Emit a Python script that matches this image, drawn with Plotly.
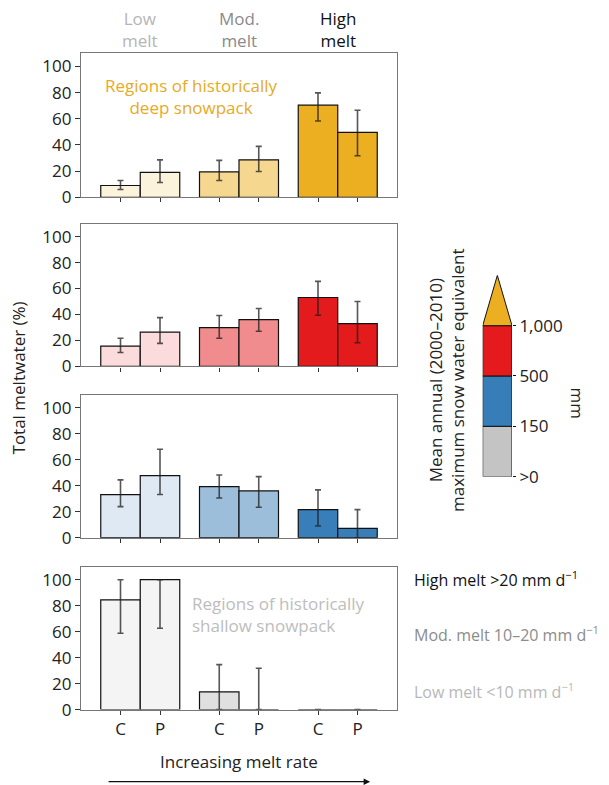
import plotly.graph_objects as go

# ---------------- data ----------------
categories = ['C', 'P', 'C', 'P', 'C', 'P']
melt_classes = ['Low<br>melt', 'Mod.<br>melt', 'High<br>melt']
x_pos = [0, 1, 2.5, 3.5, 5, 6]

# SWE > 1000 mm (deep snowpack)
deep_values = [9.0, 19.0, 19.4, 28.6, 70.4, 49.6]
deep_upper = [12.8, 28.6, 28.2, 38.9, 79.8, 66.5]
deep_lower = [5.9, 11.3, 12.8, 19.7, 58.3, 31.7]

# SWE 500-1000 mm
red_values = [15.7, 26.5, 29.9, 36.1, 53.1, 33.0]
red_upper = [21.7, 37.6, 39.2, 44.6, 65.5, 50.0]
red_lower = [10.8, 17.8, 21.7, 27.1, 39.4, 18.3]

# SWE 150-500 mm
blue_values = [33.2, 47.8, 39.3, 36.0, 21.6, 7.2]
blue_upper = [44.5, 68.1, 48.3, 47.0, 36.8, 21.6]
blue_lower = [23.9, 33.2, 30.6, 23.4, 9.0, 0.0]

# SWE >0-150 mm (shallow snowpack)
gray_values = [84.4, 100.0, 13.6, 0.0, 0.0, 0.0]
gray_upper = [100.0, 100.0, 34.6, 31.8, 0.0, 0.0]
gray_lower = [58.8, 62.6, 0.0, 0.0, 0.0, 0.0]

y_ticks = [0, 20, 40, 60, 80, 100]

cb_ticks = ['>0', '150', '500', '1,000']
cb_colors = ['#c4c4c4', '#377eb8', '#e41a1c']
cb_top_color = '#ebaf21'

legend_lines = ['High melt >20 mm d<sup>−1</sup>',
                'Mod. melt 10–20 mm d<sup>−1</sup>',
                'Low melt <10 mm d<sup>−1</sup>']

panels = [
    (deep_values, deep_upper, deep_lower, ['#fcf3dd', '#f6d78f', '#ebaf21']),
    (red_values, red_upper, red_lower, ['#fbdbdc', '#f08c8d', '#e41b1d']),
    (blue_values, blue_upper, blue_lower, ['#dfe9f4', '#9cbedb', '#387eb8']),
    (gray_values, gray_upper, gray_lower, ['#f4f4f4', '#e0e0e0', '#c4c4c4']),
]

W, H = 609, 785
H_LAYOUT = 797
FONT = 'Open Sans'
FS = 17

def px_x(p):
    return p / W

def px_y(p):
    return 1 - p / H

# panel frames in px (top, bottom)
panel_px = [(53.3, 197.0), (223.3, 366.0), (394.3, 537.0), (566.0, 708.7)]
x_dom = [px_x(81), px_x(397)]

fig = go.Figure()
layout = {}
for i, (vals, up, lo, cols) in enumerate(panels):
    n = i + 1
    xa = 'x' if n == 1 else f'x{n}'
    ya = 'y' if n == 1 else f'y{n}'
    colors = [cols[0], cols[0], cols[1], cols[1], cols[2], cols[2]]
    plus = [u - v for u, v in zip(up, vals)]
    minus = [v - l for v, l in zip(vals, lo)]
    fig.add_trace(go.Bar(
        x=x_pos, y=vals, width=1, xaxis=xa, yaxis=ya,
        marker=dict(color=colors, line=dict(color='#111111', width=1.2)),
        error_y=dict(type='data', array=plus, arrayminus=minus, symmetric=False,
                     color='rgba(30,30,30,0.75)', thickness=1.6, width=3),
        showlegend=False, hoverinfo='skip'))
    top, bot = panel_px[i]
    layout[f'xaxis{"" if n == 1 else n}'] = dict(
        domain=x_dom, range=[-1, 7], anchor=ya, showgrid=False, zeroline=False,
        showline=True, linecolor='#777', linewidth=1.2, mirror=True,
        ticks='outside', ticklen=4, tickcolor='#333', tickwidth=1.2,
        tickvals=x_pos, ticktext=categories if n == 4 else [''] * 6,
        tickfont=dict(family=FONT, size=FS, color='#222'), fixedrange=True)
    layout[f'yaxis{"" if n == 1 else n}'] = dict(
        domain=[px_y(bot), px_y(top)], range=[0, 110], anchor=xa,
        showgrid=False, zeroline=False,
        showline=True, linecolor='#777', linewidth=1.2, mirror=True,
        ticks='outside', ticklen=5, tickcolor='#333', tickwidth=1.2,
        tickvals=y_ticks, tickfont=dict(family=FONT, size=FS, color='#222'),
        fixedrange=True)

# ---- colour-bar legend as its own axis ----
fig.add_trace(go.Bar(
    x=[0.5, 0.5, 0.5], y=[1, 1, 1], base=[0, 1, 2], width=1,
    xaxis='x5', yaxis='y5',
    marker=dict(color=cb_colors, line=dict(color='#111111', width=1)),
    showlegend=False, hoverinfo='skip'))
fig.add_trace(go.Scatter(
    x=[0, 0.5, 1, 0], y=[3, 4, 3, 3], mode='lines', fill='toself',
    fillcolor=cb_top_color, line=dict(color='#111111', width=1),
    xaxis='x5', yaxis='y5', showlegend=False, hoverinfo='skip'))
layout['xaxis5'] = dict(domain=[px_x(482.7), px_x(512)], range=[0, 1], anchor='y5',
                        visible=False, fixedrange=True)
layout['yaxis5'] = dict(domain=[px_y(476), px_y(275)], range=[0, 4], anchor='x5',
                        side='right', showgrid=False, zeroline=False, showline=False,
                        ticks='outside', ticklen=3, tickcolor='#111',
                        tickvals=[0, 1, 2, 3], ticktext=cb_ticks,
                        tickfont=dict(family=FONT, size=FS, color='#222'),
                        fixedrange=True)

ann = []
def add_text(text, x, y, xref='paper', yref='paper', color='#222', xanchor='center',
             align='center', angle=0, size=FS):
    ann.append(dict(text=text, x=x, y=y, xref=xref, yref=yref, showarrow=False,
                    xanchor=xanchor, yanchor='middle', align=align, textangle=angle,
                    font=dict(family=FONT, size=size, color=color)))

header_colors = ['#b5b5b5', '#8a8a8a', '#111111']
for j, (lab, c) in enumerate(zip(melt_classes, header_colors)):
    add_text(lab, (x_pos[2 * j] + x_pos[2 * j + 1]) / 2, px_y(29), xref='x', color=c)
add_text('Regions of historically<br>deep snowpack', 1.8, 76.7, xref='x', yref='y',
         color='#e8aa1e')
add_text('Regions of historically<br>shallow snowpack', 1.76, 73.6, xref='x4', yref='y4',
         color='#bdbdbd', xanchor='left', align='left')
add_text('Total meltwater (%)', px_x(18), px_y(378), angle=-90)
add_text('Increasing melt rate', 3.0, px_y(761), xref='x4')
arrow_y = px_y(780.7)
ann.append(dict(text='', x=6.32, y=arrow_y, xref='x4', yref='paper',
                ax=(6.32 - (-0.34)) * -39.5, ay=0, axref='pixel', ayref='pixel',
                showarrow=True, arrowhead=2, arrowsize=1, arrowwidth=1.3,
                arrowcolor='#111'))
add_text('Mean annual (2000–2010)<br>maximum snow water equivalent',
         px_x(446.5), px_y(380), angle=-90)
add_text('mm', px_x(577), px_y(402), angle=90)
leg_colors = ['#111111', '#8c8c8c', '#b8b8b8']
for t, yy, c in zip(legend_lines, [578, 633, 690], leg_colors):
    add_text(t, px_x(412), px_y(yy), color=c, xanchor='left', align='left', size=16)

fig.update_layout(width=W, height=H_LAYOUT, margin=dict(l=0, r=0, t=0, b=0),
                  paper_bgcolor='white', plot_bgcolor='white',
                  annotations=ann, **layout)

page_css = ("document.body.style.margin='0';")
fig.write_html('out.html', config={'displayModeBar': False}, post_script=page_css)
